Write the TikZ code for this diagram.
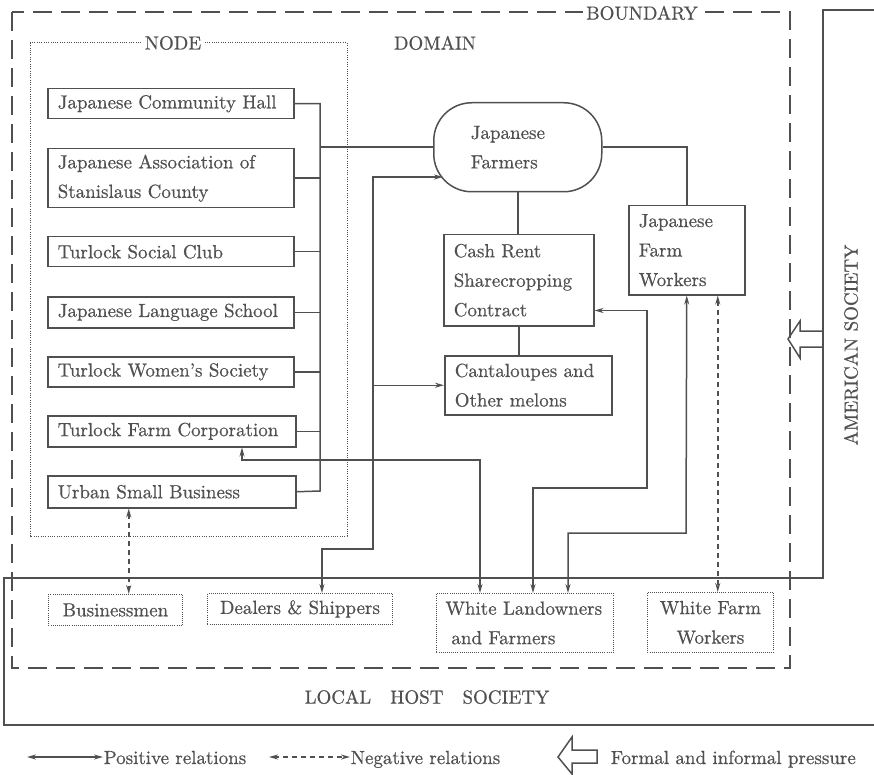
\documentclass[tikz,border=0pt]{standalone}
\usepackage{fontspec}
\setmainfont{lmroman10-regular.otf}[FakeBold=0.6]
\usetikzlibrary{arrows.meta}
\definecolor{ink}{RGB}{80,80,80}

\begin{document}
\begin{tikzpicture}[x=1pt, y=-1pt, color=ink, line width=1.5pt,
    font=\fontsize{19}{29.5}\selectfont,
    >={Stealth[length=9pt,width=5pt]},
    inst/.style={draw, anchor=north west, align=left, inner xsep=10pt,
      inner ysep=0pt, text width=#1},
    hostbox/.style={draw, anchor=north west, inner sep=0pt, line width=0.9pt,
      dash pattern=on 0.9pt off 1.2pt},
    dotline/.style={line width=1pt, dash pattern=on 1pt off 1.3pt},
    bound/.style={line width=2.6pt, dash pattern=on 19pt off 9pt},
    posrel/.style={<->},
    negrel/.style={<->, dash pattern=on 5pt off 4pt}]
        \useasboundingbox (0,0) rectangle (874,775);

        % societies and boundary
        \draw (874,10) -- (823,10) -- (823,578) -- (4,578) -- (4,725) -- (874,725);
        \draw[bound] (12,12) rectangle (790,668);
        \node[fill=white, inner xsep=3pt, inner ysep=1pt] (boundary) at (642,13) {BOUNDARY};
        \draw[dotline] (30,43) rectangle (347,536);
        \node[fill=white, inner xsep=4pt, inner ysep=1pt] (nodelbl) at (173,43) {NODE};
        \node (domain) at (435,43) {DOMAIN};
        \node (local) at (427,697) {LOCAL\quad HOST\quad SOCIETY};
        \node[rotate=90] (amer) at (851,345) {AMERICAN SOCIETY};
        \draw (823,331) -- (800,331) -- (800,321) -- (788,339) -- (800,358)
          -- (800,347) -- (823,347);

        % node institutions
        \node[inst=226pt, minimum height=30pt] (hall) at (47,88) {Japanese Community Hall};
        \node[inst=226pt, minimum height=59pt] (assoc) at (47,148)
          {Japanese Association of\\Stanislaus County};
        \node[inst=226pt, minimum height=30pt] (social) at (47,236) {Turlock Social Club};
        \node[inst=226pt, minimum height=31pt] (school) at (47,296) {Japanese Language School};
        \node[inst=226pt, minimum height=30pt] (women) at (47,356) {Turlock Women's Society};
        \node[inst=228pt, minimum height=31pt] (corp) at (47,415) {Turlock Farm Corporation};
        \node[inst=228pt, minimum height=32pt] (urban) at (47,475) {Urban Small Business};

        % domain
        \node[draw, anchor=north west, rounded corners=38pt, inner xsep=37pt, inner ysep=0pt,
          text width=94pt, minimum height=89pt, align=left] (farmers) at (433,102)
          {Japanese\\Farmers};
        \node[inst=130pt, minimum height=91pt] (cash) at (443,234)
          {Cash Rent\\Sharecropping\\Contract};
        \node[inst=147pt, minimum height=59pt] (melons) at (444,355)
          {Cantaloupes and\\Other melons};
        \node[inst=96pt, minimum height=89pt] (jworkers) at (628,205)
          {Japanese\\Farm\\Workers};

        % local host society
        \node[hostbox, minimum width=134pt, minimum height=31pt] (busi) at (48,594) {Businessmen};
        \node[hostbox, minimum width=185pt, minimum height=31pt] (dealers) at (207,593)
          {Dealers \& Shippers};
        \node[hostbox, inner xsep=9pt, text width=159pt, minimum height=59pt, align=left]
          (wland) at (436,593) {White Landowners\\\hspace*{6pt}and Farmers};
        \node[hostbox, minimum width=126pt, minimum height=60pt, align=center]
          (wworkers) at (647,592) {White Farm\\Workers};

        % bus from the node to the farmers
        \coordinate (busbot) at (320,491);
        \draw (hall.east) -| (busbot) -- (urban.east);
        \foreach \n in {assoc,social,school,women,corp}
          \draw (\n.east) -- (\n.east -| busbot);
        \draw (farmers.west -| busbot) -- (farmers.west);

        % positive relations
        \coordinate (fin) at (443,177);
        \coordinate (trunk) at (373,549);
        \draw[posrel] ([xshift=22pt]dealers.north) |- (trunk) |- (fin);
        \draw[->] (trunk |- melons.west) -- (melons.west);
        \draw (farmers.south) -- (farmers.south |- cash.north);
        \draw (cash.south) -- (cash.south |- melons.north);
        \draw (farmers.east) -| (jworkers.north);
        \coordinate (c1) at (647,488);
        \draw[posrel] ([xshift=97pt]wland.north west) |- (c1) |- ([yshift=16pt]cash.south east);
        \coordinate (c2) at (686,533);
        \draw[posrel] ([xshift=132pt]wland.north west) |- (c2) -- (jworkers.south);
        \coordinate (c3) at (242,460);
        \draw[posrel] ([xshift=44pt]wland.north west) |- (c3) -- (c3 |- corp.south);

        % negative relations
        \draw[negrel] ([xshift=-43pt]urban.south) -- ([xshift=-43pt]urban.south |- busi.north);
        \draw[negrel] ([xshift=31pt]jworkers.south) -- ([xshift=31pt]jworkers.south |- wworkers.north);

        % legend
        \coordinate (lposa) at (27,757);
        \node[anchor=base west, inner sep=0pt] (lpos) at (103,764) {Positive relations};
        \draw[posrel] (lposa) -- (lposa -| lpos.west);
        \coordinate (lnega) at (269,757);
        \node[anchor=base west, inner sep=0pt] (lneg) at (350,764) {Negative relations};
        \draw[negrel] (lnega) -- (lnega -| lneg.west);
        \node[anchor=base west, inner sep=0pt] (lform) at (610,764) {Formal and informal pressure};
        \draw (597,750) -- (572,750) -- (572,737) -- (558,757) -- (572,774) -- (572,763)
          -- (597,763) -- cycle;
      \end{tikzpicture}
\end{document}
